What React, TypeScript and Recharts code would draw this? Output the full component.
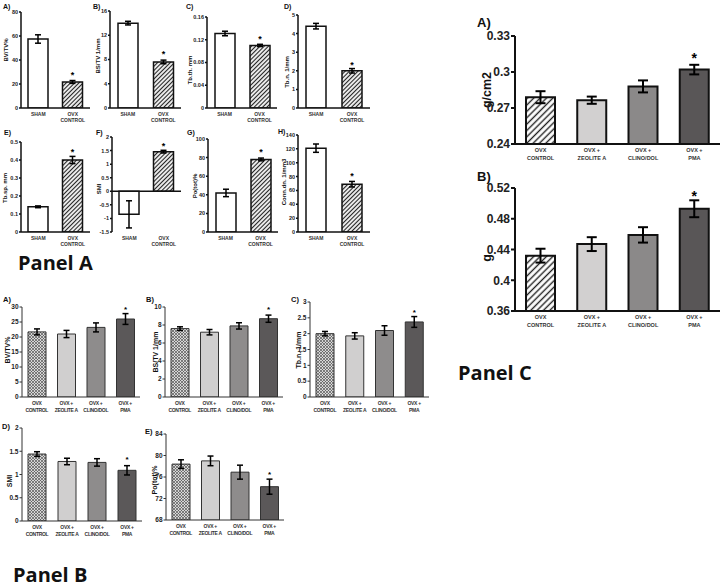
import React from 'react';
import { BarChart, Bar, XAxis, YAxis, Cell, ErrorBar, LabelList, ReferenceLine } from 'recharts';

// categories
const shamCats = ['SHAM', 'OVX\nCONTROL'];
const treatCats = ['OVX\nCONTROL', 'OVX +\nZEOLITE A', 'OVX +\nCLINO/DOL', 'OVX +\nPMA'];

// Panel A (sham vs ovx)
const aBvTv = [57.5, 21.7];
const aBvTvErr = [3.5, 1.2];
const aBsTv = [14, 7.6];
const aBsTvErr = [0.3, 0.3];
const aTbTh = [0.131, 0.11];
const aTbThErr = [0.004, 0.002];
const aTbN = [4.4, 2.0];
const aTbNErr = [0.15, 0.12];
const aTbSp = [0.14, 0.4];
const aTbSpErr = [0.005, 0.02];
const aSmi = [-0.85, 1.46];
const aSmiErr = [0.5, 0.05];
const aPoTot = [42, 78];
const aPoTotErr = [4, 1.5];
const aConnDn = [121, 69];
const aConnDnErr = [6, 4];
const aStars = ['', '*'];

// Panel B (treatments, histomorphometry)
const bBvTv = [21.7, 21, 23.2, 26];
const bBvTvErr = [1, 1.2, 1.5, 1.8];
const bBsTv = [7.6, 7.2, 7.9, 8.7];
const bBsTvErr = [0.2, 0.3, 0.35, 0.4];
const bTbN = [2.0, 1.93, 2.1, 2.37];
const bTbNErr = [0.07, 0.1, 0.15, 0.17];
const bSmi = [1.44, 1.28, 1.26, 1.09];
const bSmiErr = [0.05, 0.07, 0.08, 0.1];
const bPoTot = [78.4, 79.0, 76.9, 74.2];
const bPoTotErr = [0.8, 0.9, 1.3, 1.4];
const treatStars = ['', '', '', '*'];

// Panel C (densitometry)
const cBmd = [0.279, 0.2765, 0.288, 0.302];
const cBmdErr = [0.005, 0.003, 0.005, 0.004];
const cBmc = [0.432, 0.447, 0.459, 0.493];
const cBmcErr = [0.009, 0.009, 0.01, 0.011];

const FONT = '"Liberation Sans", Arial, sans-serif';

const fillsA = ['#ffffff', 'url(#hatchA)'];
const fillsB = ['url(#cross)', '#d0cfcf', '#8e8c8c', '#5b5859'];
const fillsC = ['url(#hatchC)', '#d2d0d0', '#8b8989', '#595657'];

const lookA = { yw: 20, xh: 16, mt: 6, axis: '#111', axisW: 1.5, tickLen: 2, tickFs: 5.5, catFs: 5, catLs: 0, catDy: 8, catGap: 6, barSize: 20, barStroke: '#111', barStrokeW: 1.5, capW: 3, errW: 1.5, starFs: 9 };
const lookB = { yw: 22, xh: 18, mt: 6, axis: '#333', axisW: 1, tickLen: 2.5, tickFs: 6.5, catFs: 5, catLs: -0.3, catDy: 8, catGap: 7, barSize: 18, barStroke: '#333', barStrokeW: 1, capW: 3, errW: 1.5, starFs: 8 };
const lookC = { yw: 48, xh: 22, mt: 8, axis: '#111', axisW: 2, tickLen: 4, tickFs: 12, catFs: 5.5, catLs: 0, catDy: 8, catGap: 7.5, barSize: 29, barStroke: '#111', barStrokeW: 2, capW: 5, errW: 2, starFs: 14 };

function CatTick(props: any) {
  const { x, y, payload, look } = props;
  const lines = String(payload.value).split('\n');
  return (
    <text x={x} y={y + look.catDy} textAnchor="middle" fontSize={look.catFs} fontWeight="bold" fill="#333" fontFamily={FONT} letterSpacing={look.catLs}>
      {lines.map((l, i) => (
        <tspan key={i} x={x} dy={i === 0 ? 0 : look.catGap}>{l}</tspan>
      ))}
    </text>
  );
}

function Mini(props: any) {
  const { cats, values, errs, stars, fills, box, domain, ticks, look, zeroLine, starOffset } = props;
  const left = box.axisX - look.yw;
  const top = box.topY - look.mt;
  const width = box.rightX - left + 4;
  const height = box.baseY - box.topY + look.mt + look.xh;
  const data = cats.map((c: string, i: number) => ({ cat: c, v: values[i], e: errs[i], s: stars[i] }));
  return (
    <div style={{ position: 'absolute', left, top, width, height }}>
      <BarChart width={width} height={height} data={data} margin={{ top: look.mt, right: 4, left: 0, bottom: 0 }}>
        <XAxis
          dataKey="cat"
          height={look.xh}
          interval={0}
          tickLine={false}
          tickSize={0}
          tickMargin={0}
          axisLine={zeroLine ? false : { stroke: look.axis, strokeWidth: look.axisW }}
          tick={(p: any) => <CatTick {...p} look={look} />}
        />
        <YAxis
          width={look.yw}
          type="number"
          domain={domain}
          ticks={ticks}
          interval={0}
          allowDataOverflow
          tickSize={look.tickLen}
          tickMargin={1}
          axisLine={{ stroke: look.axis, strokeWidth: look.axisW }}
          tickLine={{ stroke: look.axis, strokeWidth: look.axisW }}
          tick={{ fontSize: look.tickFs, fontWeight: 'bold', fill: '#222', fontFamily: FONT }}
        />
        {zeroLine && <ReferenceLine y={0} stroke={look.axis} strokeWidth={look.axisW} />}
        <Bar dataKey="v" barSize={look.barSize} stroke={look.barStroke} strokeWidth={look.barStrokeW} isAnimationActive={false}>
          {data.map((d: any, i: number) => (
            <Cell key={i} fill={fills[i]} />
          ))}
          <ErrorBar dataKey="e" width={look.capW} stroke="#000" strokeWidth={look.errW} direction="y" />
          <LabelList dataKey="s" position="top" offset={starOffset} fill="#000" fontSize={look.starFs} fontWeight="bold" fontFamily={FONT} />
        </Bar>
      </BarChart>
    </div>
  );
}

const letters: [string, number, number, number][] = [
  ['A)', 3, 6, 7], ['B)', 93, 6, 7], ['C)', 186, 6, 7], ['D)', 284, 6, 7],
  ['E)', 4, 132, 7], ['F)', 96, 132, 7], ['G)', 187, 132, 7], ['H)', 278, 131, 7],
  ['A)', 3, 299, 7.5], ['B)', 146, 299, 7.5], ['C)', 291, 299, 7.5], ['D)', 2, 426, 7.5], ['E)', 145, 431, 7.5],
  ['A)', 477, 22, 13], ['B)', 477, 176, 13],
];

const yTitles: [string, number, number, number][] = [
  ['BV/TV%', 6, 50, 6], ['BS/TV 1/mm', 98, 56, 6], ['Tb.th. mm', 190, 70, 6], ['Tb.n. 1/mm', 287, 72, 6],
  ['Tb.sp. mm', 5, 188, 6], ['SMI', 99, 189, 6], ['Po(tot)%', 195, 186, 6], ['Conn.dn. 1/mm3', 284, 182, 6],
  ['BV/TV%', 7, 350, 7], ['BS/TV 1/mm', 155, 352, 7], ['Tb.n. 1/mm', 298, 350, 7], ['SMI', 9, 481, 7], ['Po(tot)%', 154, 480, 7],
  ['g/cm2', 487, 90, 12.5], ['g', 487, 258, 12.5],
];

const panelTitles: [string, number, number][] = [
  ['Panel A', 18, 262], ['Panel B', 13, 574], ['Panel C', 458, 372],
];

export default function App() {
  return (
    <div style={{ position: 'absolute', left: 0, top: 0, width: 724, height: 587, background: '#fff', overflow: 'hidden' }}>
      <svg width={724} height={587} style={{ position: 'absolute', left: 0, top: 0 }}>
        <defs>
          <pattern id="hatchA" patternUnits="userSpaceOnUse" width="3" height="3" patternTransform="rotate(45)">
            <rect width="3" height="3" fill="#fff" />
            <line x1="1.5" y1="0" x2="1.5" y2="3" stroke="#222" strokeWidth="1.2" />
          </pattern>
          <pattern id="hatchC" patternUnits="userSpaceOnUse" width="4.5" height="4.5" patternTransform="rotate(45)">
            <rect width="4.5" height="4.5" fill="#fff" />
            <line x1="2.25" y1="0" x2="2.25" y2="4.5" stroke="#222" strokeWidth="1.4" />
          </pattern>
          <pattern id="cross" patternUnits="userSpaceOnUse" width="3" height="3">
            <rect width="3" height="3" fill="#d6d6d6" />
            <path d="M0,0 L3,3 M3,0 L0,3" stroke="#555" strokeWidth="0.7" />
          </pattern>
        </defs>
        {letters.map(([t, x, y, fs], i) => (
          <text key={'l' + i} x={x} y={y} fontSize={fs} fontWeight="bold" fill="#111" fontFamily={FONT} dominantBaseline="central">{t}</text>
        ))}
        {yTitles.map(([t, x, y, fs], i) => (
          <text key={'y' + i} x={x} y={y} transform={`rotate(-90 ${x} ${y})`} textAnchor="middle" dominantBaseline="central" fontSize={fs} fontWeight="bold" fill="#111" fontFamily={FONT}>{t}</text>
        ))}
        {panelTitles.map(([t, x, y], i) => (
          <text key={'p' + i} x={x} y={y} fontSize={20} fontWeight="bold" fill="#111" fontFamily='"Open Sans", sans-serif' dominantBaseline="central">{t}</text>
        ))}
      </svg>

      {/* Panel A */}
      <Mini cats={shamCats} values={aBvTv} errs={aBvTvErr} stars={aStars} fills={fillsA} look={lookA} starOffset={4}
        box={{ axisX: 21, rightX: 90, topY: 12, baseY: 108 }} domain={[0, 80]} ticks={[0, 20, 40, 60, 80]} />
      <Mini cats={shamCats} values={aBsTv} errs={aBsTvErr} stars={aStars} fills={fillsA} look={lookA} starOffset={5}
        box={{ axisX: 110, rightX: 181, topY: 11, baseY: 108 }} domain={[0, 16]} ticks={[0, 4, 8, 12, 16]} />
      <Mini cats={shamCats} values={aTbTh} errs={aTbThErr} stars={aStars} fills={fillsA} look={lookA} starOffset={3}
        box={{ axisX: 207, rightX: 277, topY: 17, baseY: 108 }} domain={[0, 0.16]} ticks={[0, 0.04, 0.08, 0.12, 0.16]} />
      <Mini cats={shamCats} values={aTbN} errs={aTbNErr} stars={aStars} fills={fillsA} look={lookA} starOffset={3}
        box={{ axisX: 298, rightX: 370, topY: 15, baseY: 108 }} domain={[0, 5]} ticks={[0, 1, 2, 3, 4, 5]} />
      <Mini cats={shamCats} values={aTbSp} errs={aTbSpErr} stars={aStars} fills={fillsA} look={lookA} starOffset={5}
        box={{ axisX: 21, rightX: 90, topY: 142, baseY: 232 }} domain={[0, 0.5]} ticks={[0, 0.1, 0.2, 0.3, 0.4, 0.5]} />
      <Mini cats={shamCats} values={aSmi} errs={aSmiErr} stars={aStars} fills={fillsA} look={lookA} starOffset={3} zeroLine
        box={{ axisX: 112, rightX: 181, topY: 137, baseY: 232 }} domain={[-1.5, 2]} ticks={[-1.5, -1, -0.5, 0, 0.5, 1, 1.5, 2]} />
      <Mini cats={shamCats} values={aPoTot} errs={aPoTotErr} stars={aStars} fills={fillsA} look={lookA} starOffset={4}
        box={{ axisX: 208, rightX: 278, topY: 139, baseY: 232 }} domain={[0, 100]} ticks={[0, 20, 40, 60, 80, 100]} />
      <Mini cats={shamCats} values={aConnDn} errs={aConnDnErr} stars={aStars} fills={fillsA} look={lookA} starOffset={5}
        box={{ axisX: 298, rightX: 370, topY: 135, baseY: 232 }} domain={[0, 140]} ticks={[0, 20, 40, 60, 80, 100, 120, 140]} />

      {/* Panel B */}
      <Mini cats={treatCats} values={bBvTv} errs={bBvTvErr} stars={treatStars} fills={fillsB} look={lookB} starOffset={7}
        box={{ axisX: 22, rightX: 140, topY: 307, baseY: 397 }} domain={[0, 30]} ticks={[0, 5, 10, 15, 20, 25, 30]} />
      <Mini cats={treatCats} values={bBsTv} errs={bBsTvErr} stars={treatStars} fills={fillsB} look={lookB} starOffset={7}
        box={{ axisX: 165, rightX: 283, topY: 307, baseY: 397 }} domain={[0, 10]} ticks={[0, 2, 4, 6, 8, 10]} />
      <Mini cats={treatCats} values={bTbN} errs={bTbNErr} stars={treatStars} fills={fillsB} look={lookB} starOffset={6.5}
        box={{ axisX: 310, rightX: 429, topY: 302, baseY: 397 }} domain={[0, 3]} ticks={[0, 0.5, 1, 1.5, 2, 2.5, 3]} />
      <Mini cats={treatCats} values={bSmi} errs={bSmiErr} stars={treatStars} fills={fillsB} look={lookB} starOffset={8.5}
        box={{ axisX: 22, rightX: 142, topY: 428, baseY: 521 }} domain={[0, 2]} ticks={[0, 0.5, 1, 1.5, 2]} />
      <Mini cats={treatCats} values={bPoTot} errs={bPoTotErr} stars={treatStars} fills={fillsB} look={lookB} starOffset={9.5}
        box={{ axisX: 166, rightX: 284, topY: 434, baseY: 520 }} domain={[68, 84]} ticks={[68, 72, 76, 80, 84]} />

      {/* Panel C */}
      <Mini cats={treatCats} values={cBmd} errs={cBmdErr} stars={treatStars} fills={fillsC} look={lookC} starOffset={7}
        box={{ axisX: 515, rightX: 720, topY: 36, baseY: 144 }} domain={[0.24, 0.33]} ticks={[0.24, 0.27, 0.3, 0.33]} />
      <Mini cats={treatCats} values={cBmc} errs={cBmcErr} stars={treatStars} fills={fillsC} look={lookC} starOffset={8}
        box={{ axisX: 515, rightX: 720, topY: 188, baseY: 311 }} domain={[0.36, 0.52]} ticks={[0.36, 0.4, 0.44, 0.48, 0.52]} />
    </div>
  );
}
